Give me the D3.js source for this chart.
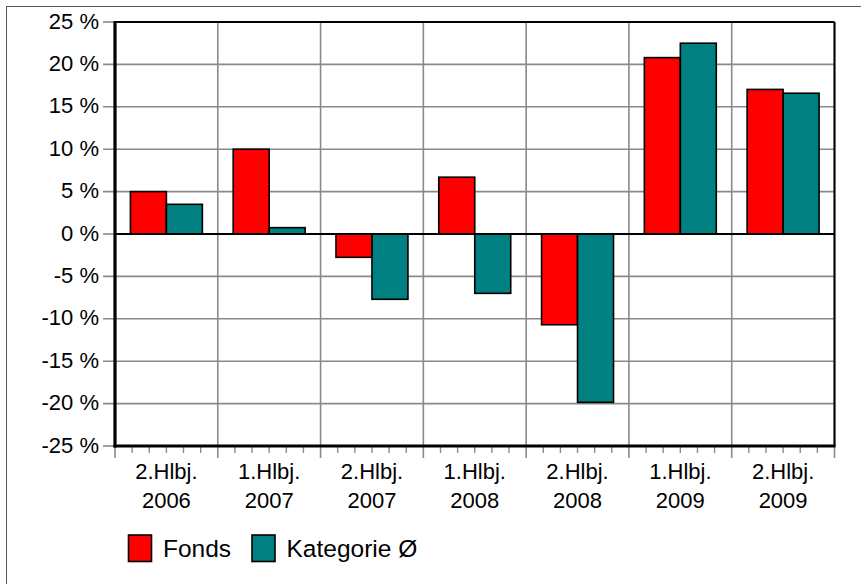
<!DOCTYPE html>
<html>
<head>
<meta charset="utf-8">
<script src="https://cdn.jsdelivr.net/npm/d3@7"></script>
<style>
  html, body { margin: 0; padding: 0; background: #fff; }
  svg { display: block; font-family: "Liberation Sans", Arial, sans-serif; }
</style>
</head>
<body>
<svg id="chart" width="861" height="584"></svg>
<script>
const categories = [["2.Hlbj.", "2006"], ["1.Hlbj.", "2007"], ["2.Hlbj.", "2007"], ["1.Hlbj.", "2008"], ["2.Hlbj.", "2008"], ["1.Hlbj.", "2009"], ["2.Hlbj.", "2009"]];
const seriesNames = ["Fonds", "Kategorie Ø"];
const fonds = [5.0, 10.0, -2.75, 6.7, -10.7, 20.8, 17.05];
const kategorie = [3.5, 0.75, -7.7, -7.0, -19.85, 22.5, 16.6];
const yTicks = [25, 20, 15, 10, 5, 0, -5, -10, -15, -20, -25];
const colors = ["#ff0000", "#008080"];

(function () {
const svg = d3.select("#chart");
const pL = 115, pR = 834.5, pT = 22, pB = 446;

svg.append("rect").attr("x", 6.5).attr("y", 6.5).attr("width", 1000).attr("height", 1000)
  .attr("fill", "none").attr("stroke", "#555").attr("stroke-width", 1);

const catIdx = categories.map((d, i) => i);
const x0 = d3.scaleBand().domain(catIdx).range([pL, pR]).padding(0);
const bw = x0.bandwidth();
const x1 = d3.scaleBand().domain(seriesNames).range([bw * 0.15, bw * 0.85]).padding(0);
const y = d3.scaleLinear().domain([-25, 25]).range([pB, pT]);

const grid = "#8a8a8a";

yTicks.forEach(t => {
  if (t === 25 || t === -25 || t === 0) return;
  svg.append("line").attr("x1", pL - 12).attr("x2", pR).attr("y1", y(t)).attr("y2", y(t))
    .attr("stroke", grid).attr("stroke-width", 1.6);
});
[25, 0, -25].forEach(t => {
  svg.append("line").attr("x1", pL - 12).attr("x2", pL).attr("y1", y(t)).attr("y2", y(t))
    .attr("stroke", grid).attr("stroke-width", 1.6);
});

d3.range(categories.length + 1).forEach(i => {
  const xx = pL + i * bw;
  svg.append("line").attr("x1", xx).attr("x2", xx).attr("y1", pT).attr("y2", pB + 12)
    .attr("stroke", grid).attr("stroke-width", 1.6);
  if (i < categories.length) {
    d3.range(1, 6).forEach(k => {
      const mx = xx + k * bw / 6;
      svg.append("line").attr("x1", mx).attr("x2", mx).attr("y1", pB).attr("y2", pB + 7)
        .attr("stroke", grid).attr("stroke-width", 1.4);
    });
  }
});

const yAxis = d3.axisLeft(y).tickValues(yTicks).tickSize(0).tickPadding(0)
  .tickFormat(d => d + " %");
const ya = svg.append("g").attr("transform", `translate(${pL - 16},0)`).call(yAxis);
ya.select(".domain").remove();
ya.selectAll("text").attr("font-size", 22).attr("fill", "#000")
  .attr("font-family", "Liberation Sans, Arial, sans-serif").attr("dy", "0.28em");

svg.append("line").attr("x1", pL).attr("x2", pR).attr("y1", pT).attr("y2", pT)
  .attr("stroke", "#000").attr("stroke-width", 2);
svg.append("line").attr("x1", pR).attr("x2", pR).attr("y1", pT).attr("y2", pB)
  .attr("stroke", "#000").attr("stroke-width", 2);

const data = categories.map((c, i) => ({ i, vals: [fonds[i], kategorie[i]] }));
const g = svg.append("g");
data.forEach(d => {
  d.vals.forEach((v, s) => {
    g.append("rect")
      .attr("x", x0(d.i) + x1(seriesNames[s]))
      .attr("y", y(Math.max(0, v)))
      .attr("width", x1.bandwidth())
      .attr("height", Math.abs(y(v) - y(0)))
      .attr("fill", colors[s]).attr("stroke", "#000").attr("stroke-width", 1.6);
  });
});

svg.append("line").attr("x1", pL).attr("x2", pR).attr("y1", y(0)).attr("y2", y(0))
  .attr("stroke", "#000").attr("stroke-width", 1.8);

svg.append("line").attr("x1", pL).attr("x2", pL).attr("y1", pT - 1).attr("y2", pB + 1.5)
  .attr("stroke", "#000").attr("stroke-width", 3.2);
svg.append("line").attr("x1", pL - 1.5).attr("x2", pR + 1).attr("y1", pB).attr("y2", pB)
  .attr("stroke", "#000").attr("stroke-width", 3.2);

categories.forEach((c, i) => {
  const cx = x0(i) + bw / 2;
  const t = svg.append("text").attr("x", cx).attr("text-anchor", "middle")
    .attr("font-size", 22).attr("fill", "#000");
  t.append("tspan").attr("x", cx).attr("y", 479).text(c[0]);
  t.append("tspan").attr("x", cx).attr("y", 508).text(c[1]);
});

const legend = svg.append("g");
const legX = [128.5, 252];
seriesNames.forEach((s, i) => {
  legend.append("rect").attr("x", legX[i]).attr("y", 535).attr("width", 23).attr("height", 26.5)
    .attr("fill", colors[i]).attr("stroke", "#000").attr("stroke-width", 1.6);
  legend.append("text").attr("x", legX[i] + 34.5).attr("y", 557)
    .attr("font-size", 24.5).attr("fill", "#000").text(s);
});
})();
</script>
</body>
</html>
